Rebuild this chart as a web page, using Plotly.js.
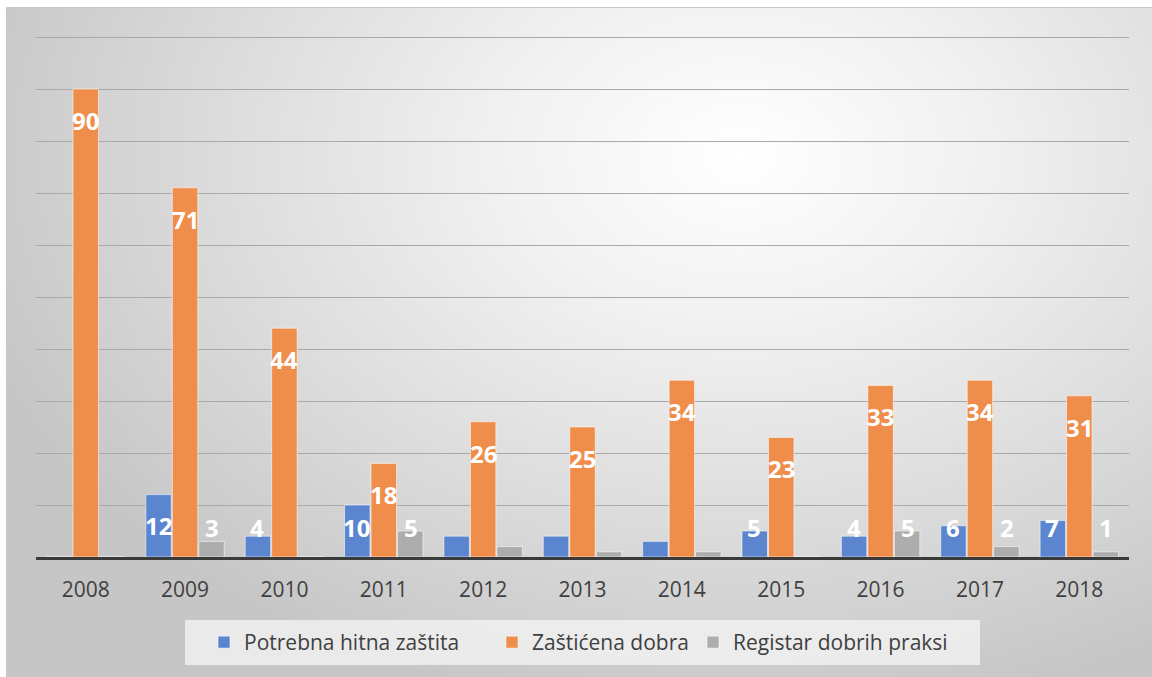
<!DOCTYPE html>
<html>
<head>
<meta charset="utf-8">
<script src="https://cdn.plot.ly/plotly-3.0.1.min.js"></script>
<style>
  html, body { margin: 0; padding: 0; background: #ffffff; }
  #bg {
    position: absolute; left: 6px; top: 7px; width: 1146px; height: 670px;
    background: radial-gradient(ellipse 70% 85% at 64% 22%, #ffffff 0%, #f1f1f1 30%, #dcdcdc 65%, #c6c6c6 100%);
    border-top: 1px solid #c8c8c8; border-left: 1px solid #c8c8c8;
    box-sizing: border-box;
  }
  #chart { position: absolute; left: 0; top: 0; width: 1152px; height: 677px; }
</style>
</head>
<body>
<div id="bg"></div>
<div id="chart"></div>
<script>
const years = ['2008','2009','2010','2011','2012','2013','2014','2015','2016','2017','2018'];
const seriesNames = ['Potrebna hitna zaštita', 'Zaštićena dobra', 'Registar dobrih praksi'];
const hitna = [0, 12, 4, 10, 4, 4, 3, 5, 4, 6, 7];
const zasticena = [90, 71, 44, 18, 26, 25, 34, 23, 33, 34, 31];
const registar = [0, 3, 0, 5, 2, 1, 1, 0, 5, 2, 1];
// data-label texts as shown in the reference (hidden ones left empty)
const hitnaLabels = ['', '12', '4', '10', '', '', '', '5', '4', '6', '7'];
const zasticenaLabels = ['90', '71', '44', '18', '26', '25', '34', '23', '33', '34', '31'];
const registarLabels = ['', '3', '', '5', '', '', '', '', '5', '2', '1'];

const colors = ['#5b86cf', '#ef8d4b', '#adadad'];
const values = [hitna, zasticena, registar];
const labels = [hitnaLabels, zasticenaLabels, registarLabels];
const legendIds = ['legend', 'legend2', 'legend3'];

const traces = values.map((v, i) => ({
  type: 'bar',
  name: seriesNames[i],
  legend: legendIds[i],
  x: years,
  y: v,
  marker: { color: colors[i], line: { color: 'rgba(255,255,255,0.55)', width: 1 } },
  hoverinfo: 'x+y+name'
}));

// annotations for data labels, positioned via the data scale (x = category index)
const annotations = [];
const offsets = [-1, 0, 1];
values.forEach((v, i) => {
  v.forEach((val, k) => {
    const t = labels[i][k];
    if (!t) return;
    annotations.push({
      x: k, xref: 'x', y: Math.max(val - 6, 5.6), yref: 'y',
      xshift: offsets[i] * 27,
      text: '<b>' + t + '</b>', showarrow: false,
      font: { family: 'Open Sans, sans-serif', size: 24, color: '#ffffff' },
      xanchor: 'center', yanchor: 'middle'
    });
  });
});

const plotL = 36, plotW = 1093, plotT = 36, plotH = 521;
const px2x = p => (p - plotL) / plotW;
const py2y = p => (plotT + plotH - p) / plotH;

function legendAt(leftPx) {
  return {
    orientation: 'h', x: px2x(leftPx), xanchor: 'left', y: py2y(622), yanchor: 'top',
    bgcolor: 'rgba(0,0,0,0)',
    font: { family: 'Open Sans, sans-serif', size: 21, color: '#404040' },
    itemclick: false, itemdoubleclick: false
  };
}

const layout = {
  width: 1152, height: 677,
  paper_bgcolor: 'rgba(0,0,0,0)',
  plot_bgcolor: 'rgba(0,0,0,0)',
  margin: { l: plotL, r: 1152 - plotL - plotW, t: plotT, b: 677 - plotT - plotH },
  barmode: 'group',
  bargap: 0.2,
  bargroupgap: 0.04,
  showlegend: true,
  legend: legendAt(204),
  legend2: legendAt(492),
  legend3: legendAt(693),
  shapes: [{
    type: 'rect', xref: 'paper', yref: 'paper', layer: 'below',
    x0: px2x(185), x1: px2x(980),
    y0: py2y(665), y1: py2y(620),
    fillcolor: 'rgba(245,245,245,0.75)', line: { width: 0 }
  }],
  xaxis: {
    type: 'category',
    range: [-0.5, 10.5], autorange: false,
    showgrid: false,
    showline: true, linecolor: '#3a3a3a', linewidth: 3,
    ticks: '', ticklabelstandoff: 12,
    tickfont: { family: 'Open Sans, sans-serif', size: 21, color: '#404040' },
    fixedrange: true
  },
  yaxis: {
    range: [0, 100.2], dtick: 10, autorange: false,
    showgrid: true, gridcolor: '#a9a9a9', gridwidth: 1,
    zeroline: false, showticklabels: false, ticks: '',
    fixedrange: true
  },
  annotations: annotations
};

Plotly.newPlot('chart', traces, layout, { displayModeBar: false, staticPlot: true });
</script>
</body>
</html>
